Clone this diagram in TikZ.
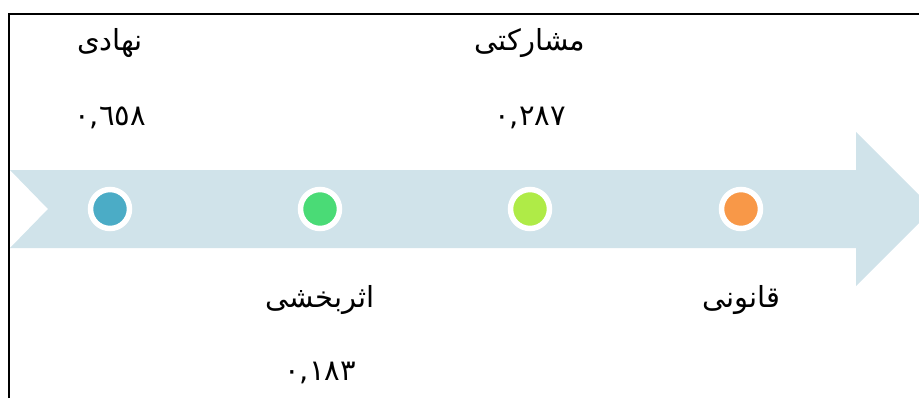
\documentclass[tikz,border=0pt]{standalone}
\usepackage{fontspec}
\newfontfamily\arabicfont[Script=Arabic]{DejaVu Sans}
\TeXXeTstate=1
\usepackage{xcolor}
\usetikzlibrary{positioning}
\definecolor{bandcol}{HTML}{D0E3EA}
\definecolor{dotblue}{HTML}{4BACC6}
\definecolor{dotgreen}{HTML}{4ADB76}
\definecolor{dotlime}{HTML}{AFEB47}
\definecolor{dotorange}{HTML}{F89848}

\begin{document}
\begin{tikzpicture}[
  node distance=4.2cm, on grid,
  every node/.style={font=\arabicfont\fontsize{16.5}{20}\selectfont},
  stage/.style={circle,draw=white,line width=0.11cm,minimum size=0.78cm,
                inner sep=0pt},
]
  \clip (0,0) rectangle (18.38,7.96);
  \fill[bandcol] (0.2,4.56) -- (17.12,4.56) -- (17.12,5.32) -- (18.66,3.78)
    -- (17.12,2.24) -- (17.12,3.0) -- (0.2,3.0) -- (0.96,3.78) -- cycle;
  \draw[line width=0.055cm] (0.18,0) -- (0.18,7.68) -- (18.5,7.68);

  \node[stage, fill=dotblue] (nahadi) at (2.2,3.78) {};
  \node[stage, fill=dotgreen, right=of nahadi] (asar) {};
  \node[stage, fill=dotlime, right=of asar] (mosharekati) {};
  \node[stage, fill=dotorange, right=4.22cm of mosharekati] (ghanooni) {};

  \node[above=3.32cm of nahadi] (nahadi-label) {\beginR نهادی\endR};
  \node[above=1.82cm of nahadi] (nahadi-value) {٠,٦٥٨};
  \node[above=3.32cm of mosharekati] (mosharekati-label) {\beginR مشارکتی\endR};
  \node[above=1.82cm of mosharekati] (mosharekati-value) {٠,٢٨٧};
  \node[below=1.82cm of asar] (asar-label) {\beginR اثربخشی\endR};
  \node[below=3.28cm of asar] (asar-value) {٠,١٨٣};
  \node[below=1.82cm of ghanooni] (ghanooni-label) {\beginR قانونی\endR};
\end{tikzpicture}
\end{document}
